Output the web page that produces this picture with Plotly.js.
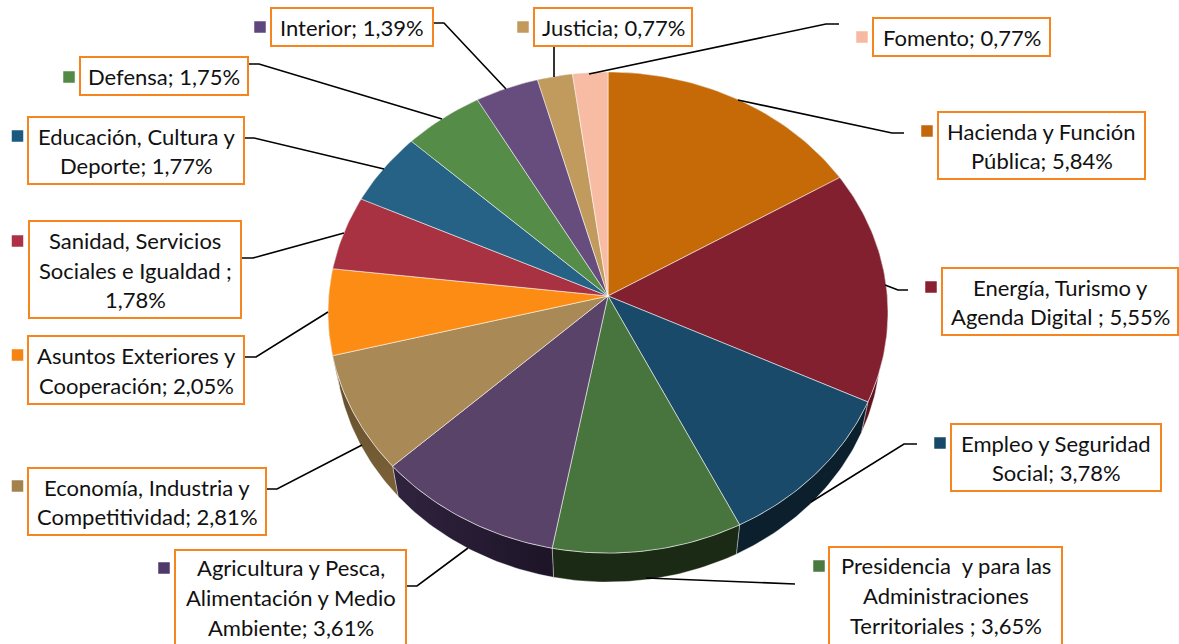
<!DOCTYPE html>
<html>
<head>
<meta charset="utf-8">
<script src="https://cdn.plot.ly/plotly-3.0.1.min.js"></script>
<style>html,body{margin:0;padding:0;background:#fff;overflow:hidden}</style>
</head>
<body>
<div id="chart" style="width:1179px;height:644px"></div>
<script>
// ---- data -----
const categories = ["Hacienda y Función Pública","Energía, Turismo y Agenda Digital","Empleo y Seguridad Social","Presidencia y para las Administraciones Territoriales","Agricultura y Pesca, Alimentación y Medio Ambiente","Economía, Industria y Competitividad","Asuntos Exteriores y Cooperación","Sanidad, Servicios Sociales e Igualdad","Educación, Cultura y Deporte","Defensa","Interior","Justicia","Fomento"];
const shares = [5.84,5.55,3.78,3.65,3.61,2.81,2.05,1.78,1.77,1.75,1.39,0.77,0.77];
const labelLines = [
  ["Hacienda y Función","Pública; 5,84%"],
  ["Energía, Turismo y","Agenda Digital ; 5,55%"],
  ["Empleo y Seguridad","Social; 3,78%"],
  ["Presidencia \u00a0y para las","Administraciones","Territoriales ; 3,65%"],
  ["Agricultura y Pesca,","Alimentación y Medio","Ambiente; 3,61%"],
  ["Economía, Industria y","Competitividad; 2,81%"],
  ["Asuntos Exteriores y","Cooperación; 2,05%"],
  ["Sanidad, Servicios","Sociales e Igualdad ;","1,78%"],
  ["Educación, Cultura y","Deporte; 1,77%"],
  ["Defensa; 1,75%"],
  ["Interior; 1,39%"],
  ["Justicia; 0,77%"],
  ["Fomento; 0,77%"]
];
// ---- styles -----
const topColors  = ["#c66a08","#832030","#1a4a69","#48743e","#5a4369","#a98955","#fd8c15","#a93242","#256286","#558c48","#664d7e","#c19a5e","#f8bba3"];
const keyColors  = ["#c4660a","#8b1f32","#17486a","#4a7a3f","#50386a","#a4824c","#f58412","#ad3046","#1a5a7e","#518a45","#60467e","#c39a5e","#f7b9a2"];
const wallColors = ["#63380a","#5c1420","#0b202c","#1a2a14","#241a30","#6b5530","#8a4c0c","#5c1b24","#123345","#2c4a26","#362a44","#6a5432","#8a6758"];
// ---- layout: label boxes [x0,y0,x1,y1], key centres, leader paths -----
const boxes = [[938,112,1145,179],[942,268,1178,335],[951,424,1161,491],[829,547,1062,645],[175,550,406,646],[28,468,266,535],[28,336,244,404],[29,221,241,318],[28,117,244,184],[80,57,248,95],[271,8,433,46],[534,8,692,46],[873,18,1050,56]];
const keyX = [927,931,940,819,164,17.5,17.5,17.5,17.5,69,260,523,862];
const keyY = [131,287,443,566,568,486,355,241,136,77,27,27,37];
const leaders = [
 [[738,100],[892,133],[904,133]],
 [[885,285],[898,290],[908,290]],
 [[811,502],[904,444],[917,444]],
 [[646,578],[785,584],[795,584]],
 [[468,548],[417,586],[406,586]],
 [[362,445],[277,489],[266,489]],
 [[328,312],[256,357],[244,357]],
 [[344,233],[253,258],[242,258]],
 [[384,169],[254,138],[244,138]],
 [[442,119],[259,64],[248,64]],
 [[506,89],[444,23],[433,23]],
 [[554,77],[554,46]],
 [[589,74],[826,24],[839,24]]
];
// ---- pie projection (tilted disc with perspective) -----
const PX=608, PY=296, RX=279.3, RY=239.4, K=0.0686;
function rim(deg){
  const t=deg*Math.PI/180, u=Math.sin(t), v=Math.cos(t), d=1+K*v;
  return [PX+RX*u/d, PY-RY*v/d];
}
function lower(p){ return [PX+0.975*(p[0]-PX), 344+0.9875*(p[1]-312)]; }
const total = shares.reduce((s,v)=>s+v,0);
const traces = [];
const tops = [];
let acc = 0;
shares.forEach((val,i)=>{
  const a0 = acc/total*360, a1 = (acc+val)/total*360;
  acc += val;
  const n = Math.max(4,Math.ceil(a1-a0));
  const arc=[];
  for(let j=0;j<=n;j++) arc.push(rim(a0+(a1-a0)*j/n));
  const low = arc.map(lower).reverse();
  const wall = arc.concat(low,[arc[0]]);
  const w = {x:wall.map(p=>p[0]),y:wall.map(p=>p[1]),mode:'lines',fill:'toself',fillcolor:wallColors[i],
    line:{color:'rgba(255,255,255,0.45)',width:0.8},name:categories[i],showlegend:false,hoverinfo:'skip'};
  if(i===4) w.fillgradient={type:'horizontal',colorscale:[[0,'#30233f'],[1,'#1d1427']]};
  if(i===5) w.fillgradient={type:'vertical',colorscale:[[0,'#7c6238'],[1,'#5e4a2a']]};
  traces.push(w);
  const sector=[[PX,PY]].concat(arc,[[PX,PY]]);
  tops.push({x:sector.map(p=>p[0]),y:sector.map(p=>p[1]),mode:'lines',fill:'toself',fillcolor:topColors[i],
    line:{color:'rgba(255,255,255,0.6)',width:0.9},name:categories[i],showlegend:false,hoverinfo:'skip'});
});
traces.push(...tops);
// leaders
const lx=[],ly=[];
leaders.forEach(l=>{l.forEach(p=>{lx.push(p[0]);ly.push(p[1]);});lx.push(null);ly.push(null);});
traces.push({x:lx,y:ly,mode:'lines',line:{color:'#000',width:1.6},showlegend:false,hoverinfo:'skip'});
// legend keys
traces.push({x:keyX,y:keyY,mode:'markers',marker:{symbol:'square',size:11.5,color:keyColors,line:{width:0}},showlegend:false,hoverinfo:'skip'});
// boxes + text
const shapes = boxes.map(b=>({type:'rect',xref:'x',yref:'y',x0:b[0],y0:b[1],x1:b[2],y1:b[3],fillcolor:'#fff',line:{color:'#f5861f',width:2},layer:'above'}));
const annotations=[];
labelLines.forEach((lines,i)=>{
  const b=boxes[i], cx=(b[0]+b[2])/2, cy=(b[1]+b[3])/2, pitch=29.6;
  const nudge = (i===3||i===4) ? -0.5 : (lines.length>1 ? 0.5 : 0);
  lines.forEach((t,j)=>{
    annotations.push({x:cx,y:cy+nudge+(j-(lines.length-1)/2)*pitch,xref:'x',yref:'y',text:t,showarrow:false,xanchor:'center',yanchor:'middle',
      font:{family:'Lato, Carlito, sans-serif',size:22,color:'#111'}});
  });
});
Plotly.newPlot('chart',traces,{
  width:1179,height:644,margin:{l:0,r:0,t:0,b:0},paper_bgcolor:'#fff',plot_bgcolor:'#fff',showlegend:false,
  xaxis:{range:[0,1179],visible:false,fixedrange:true},
  yaxis:{range:[644,0],visible:false,fixedrange:true},
  shapes:shapes,annotations:annotations
},{displayModeBar:false,staticPlot:true});
</script>
</body>
</html>
